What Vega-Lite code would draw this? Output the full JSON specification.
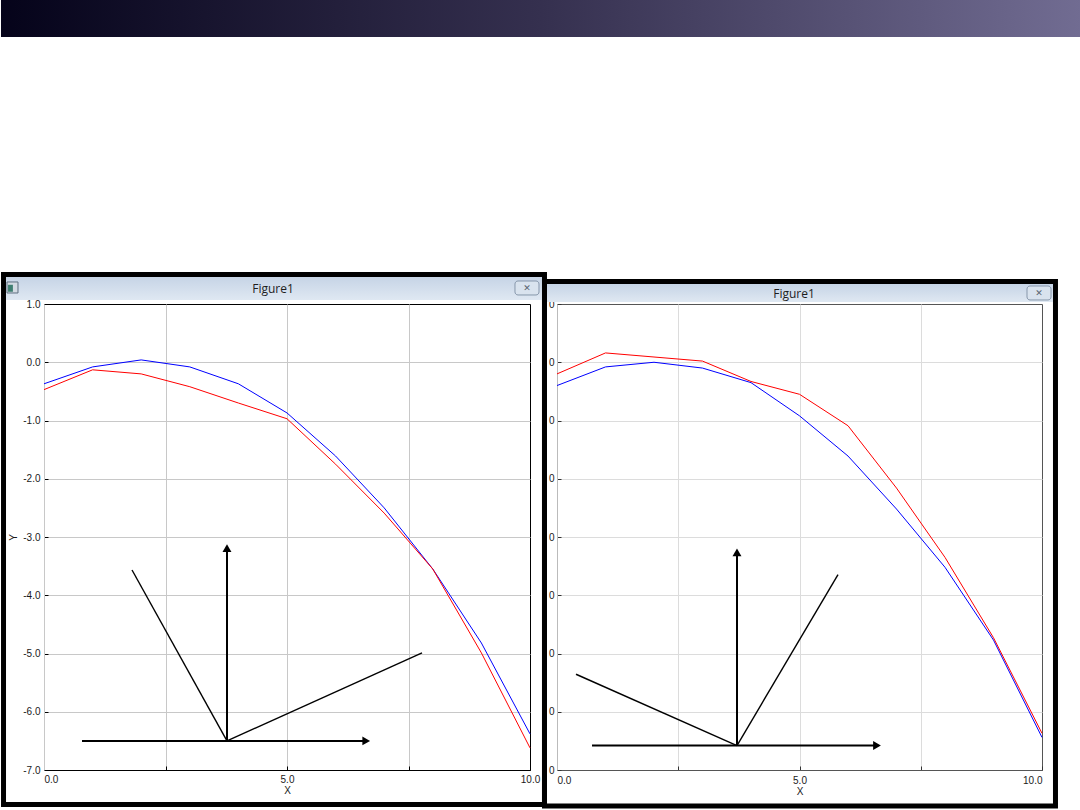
{
  "$schema": "https://vega.github.io/schema/vega-lite/v6.json",
  "padding": 0,
  "background": "#ffffff",
  "autosize": {"type": "pad"},
  "config": {"view": {"stroke": null}, "font": "Liberation Sans"},
  "datasets": {
    "left": [
      {"x": 0, "y": -0.37, "s": "blue"}, {"x": 1, "y": -0.08, "s": "blue"}, {"x": 2, "y": 0.04, "s": "blue"},
      {"x": 3, "y": -0.08, "s": "blue"}, {"x": 4, "y": -0.37, "s": "blue"}, {"x": 5, "y": -0.87, "s": "blue"},
      {"x": 6, "y": -1.61, "s": "blue"}, {"x": 7, "y": -2.5, "s": "blue"}, {"x": 8, "y": -3.55, "s": "blue"},
      {"x": 9, "y": -4.82, "s": "blue"}, {"x": 10, "y": -6.38, "s": "blue"},
      {"x": 0, "y": -0.47, "s": "red"}, {"x": 1, "y": -0.13, "s": "red"}, {"x": 2, "y": -0.2, "s": "red"},
      {"x": 3, "y": -0.42, "s": "red"}, {"x": 4, "y": -0.7, "s": "red"}, {"x": 5, "y": -0.97, "s": "red"},
      {"x": 6, "y": -1.75, "s": "red"}, {"x": 7, "y": -2.59, "s": "red"}, {"x": 8, "y": -3.55, "s": "red"},
      {"x": 9, "y": -4.99, "s": "red"}, {"x": 10, "y": -6.62, "s": "red"}
    ],
    "right": [
      {"x": 0, "y": -0.4, "s": "blue"}, {"x": 1, "y": -0.08, "s": "blue"}, {"x": 2, "y": 0.0, "s": "blue"},
      {"x": 3, "y": -0.1, "s": "blue"}, {"x": 4, "y": -0.35, "s": "blue"}, {"x": 5, "y": -0.92, "s": "blue"},
      {"x": 6, "y": -1.61, "s": "blue"}, {"x": 7, "y": -2.52, "s": "blue"}, {"x": 8, "y": -3.52, "s": "blue"},
      {"x": 9, "y": -4.77, "s": "blue"}, {"x": 10, "y": -6.44, "s": "blue"},
      {"x": 0, "y": -0.2, "s": "red"}, {"x": 1, "y": 0.16, "s": "red"}, {"x": 2, "y": 0.09, "s": "red"},
      {"x": 3, "y": 0.02, "s": "red"}, {"x": 4, "y": -0.33, "s": "red"}, {"x": 5, "y": -0.55, "s": "red"},
      {"x": 6, "y": -1.09, "s": "red"}, {"x": 7, "y": -2.16, "s": "red"}, {"x": 8, "y": -3.35, "s": "red"},
      {"x": 9, "y": -4.73, "s": "red"}, {"x": 10, "y": -6.37, "s": "red"}
    ],
    "vecL": [
      {"x": 0.782, "y": -6.5, "xe": 6.6, "ye": -6.5, "kind": "arrow"},
      {"x": 3.765, "y": -6.5, "xe": 3.765, "ye": -3.2, "kind": "arrow"},
      {"x": 3.765, "y": -6.5, "xe": 1.811, "ye": -3.567, "kind": "line"},
      {"x": 3.765, "y": -6.5, "xe": 7.778, "ye": -4.991, "kind": "line"}
    ],
    "headL": [
      {"x": 6.63, "y": -6.5, "dir": "right"},
      {"x": 3.765, "y": -3.19, "dir": "up"}
    ],
    "vecR": [
      {"x": 0.722, "y": -6.58, "xe": 6.55, "ye": -6.58, "kind": "arrow"},
      {"x": 3.711, "y": -6.58, "xe": 3.711, "ye": -3.28, "kind": "arrow"},
      {"x": 3.711, "y": -6.58, "xe": 0.392, "ye": -5.356, "kind": "line"},
      {"x": 3.711, "y": -6.58, "xe": 5.794, "ye": -3.646, "kind": "line"}
    ],
    "headR": [
      {"x": 6.598, "y": -6.58, "dir": "right"},
      {"x": 3.711, "y": -3.266, "dir": "up"}
    ]
  },
  "bounds": "full",
  "spacing": 234,
  "vconcat": [
    {
      "width": 1037,
      "height": 37,
      "data": {"values": [{}]},
      "mark": {
        "type": "rect",
        "stroke": null,
        "clip": false,
        "fill": {"gradient": "linear", "x1": 0, "y1": 0, "x2": 1, "y2": 0,
          "stops": [{"offset": 0, "color": "#05031a"}, {"offset": 0.5, "color": "#35304f"}, {"offset": 1, "color": "#716c92"}]}
      },
      "encoding": {
        "x": {"datum": -0.04147, "type": "quantitative", "scale": {"domain": [0, 1], "nice": false, "zero": false}, "axis": null},
        "x2": {"datum": 1},
        "y": {"datum": 0, "type": "quantitative", "scale": {"domain": [0, 1], "nice": false, "zero": false}, "axis": null},
        "y2": {"datum": 1}
      }
    },
    {
      "bounds": "flush",
      "spacing": 27,
      "hconcat": [
        {
          "width": 486,
          "height": 466,
          "view": {"stroke": "#000000", "strokeWidth": 1},
          "layer": [
            {
              "data": {"values": [{}]},
              "mark": {"type": "rect", "filled": false, "stroke": "#000000", "strokeWidth": 5, "clip": false},
              "encoding": {
                "x": {"datum": -0.833, "type": "quantitative", "scale": {"domain": [0, 10], "nice": false, "zero": false}},
                "x2": {"datum": 10.298},
                "y": {"datum": 1.506, "type": "quantitative", "scale": {"domain": [-7, 1], "nice": false, "zero": false}},
                "y2": {"datum": -7.592}
              }
            },
            {
              "data": {"values": [{}]},
              "mark": {"type": "rect", "stroke": null, "clip": false,
                "fill": {"gradient": "linear", "x1": 0, "y1": 0, "x2": 0, "y2": 1,
                  "stops": [{"offset": 0, "color": "#c6d4e6"}, {"offset": 1, "color": "#dfe8f2"}]}},
              "encoding": {
                "x": {"datum": -0.782, "type": "quantitative", "scale": {"domain": [0, 10], "nice": false, "zero": false}},
                "x2": {"datum": 10.247},
                "y": {"datum": 1.464, "type": "quantitative", "scale": {"domain": [-7, 1], "nice": false, "zero": false}},
                "y2": {"datum": 1.069}
              }
            },
            {
              "data": {"values": [{}]},
              "mark": {"type": "rect", "fill": "#d4dbe3", "stroke": "#5f7080", "strokeWidth": 1, "clip": false},
              "encoding": {
                "x": {"datum": -0.761, "type": "quantitative", "scale": {"domain": [0, 10], "nice": false, "zero": false}},
                "x2": {"datum": -0.535},
                "y": {"datum": 1.378, "type": "quantitative", "scale": {"domain": [-7, 1], "nice": false, "zero": false}},
                "y2": {"datum": 1.189}
              }
            },
            {
              "data": {"values": [{}]},
              "mark": {"type": "rect", "fill": "#3f7f72", "stroke": null, "clip": false},
              "encoding": {
                "x": {"datum": -0.74, "type": "quantitative", "scale": {"domain": [0, 10], "nice": false, "zero": false}},
                "x2": {"datum": -0.64},
                "y": {"datum": 1.33, "type": "quantitative", "scale": {"domain": [-7, 1], "nice": false, "zero": false}},
                "y2": {"datum": 1.21}
              }
            },
            {
              "data": {"values": [{}]},
              "mark": {"type": "rect", "fill": "#d9e3ee", "stroke": "#8797ab", "strokeWidth": 1, "cornerRadius": 3, "clip": false},
              "encoding": {
                "x": {"datum": 9.691, "type": "quantitative", "scale": {"domain": [0, 10], "nice": false, "zero": false}},
                "x2": {"datum": 10.185},
                "y": {"datum": 1.395, "type": "quantitative", "scale": {"domain": [-7, 1], "nice": false, "zero": false}},
                "y2": {"datum": 1.155}
              }
            },
            {
              "data": {"values": [{"t": "✕"}]},
              "mark": {"type": "text", "font": "DejaVu Sans", "fontSize": 9, "color": "#5a6470", "align": "center", "baseline": "middle", "clip": false},
              "encoding": {
                "x": {"datum": 9.938, "type": "quantitative", "scale": {"domain": [0, 10], "nice": false, "zero": false}},
                "y": {"datum": 1.275, "type": "quantitative", "scale": {"domain": [-7, 1], "nice": false, "zero": false}},
                "text": {"field": "t"}
              }
            },
            {
              "data": {"values": [{"t": "Figure1"}]},
              "mark": {"type": "text", "font": "Open Sans", "fontSize": 12, "color": "#1e1e1e", "align": "center", "baseline": "middle", "clip": false},
              "encoding": {
                "x": {"datum": 4.712, "type": "quantitative", "scale": {"domain": [0, 10], "nice": false, "zero": false}},
                "y": {"datum": 1.258, "type": "quantitative", "scale": {"domain": [-7, 1], "nice": false, "zero": false}},
                "text": {"field": "t"}
              }
            },
            {
              "data": {"name": "left"},
              "mark": {"type": "line", "strokeWidth": 1},
              "encoding": {
                "x": {"field": "x", "type": "quantitative", "scale": {"domain": [0, 10], "nice": false, "zero": false},
                  "axis": {"values": [0, 2.5, 5, 7.5, 10], "title": "X", "grid": true, "gridColor": "#c8c8c8",
                    "gridOpacity": {"condition": {"test": "datum.value == 0 || datum.value == 10", "value": 0}, "value": 1},
                    "labelExpr": "datum.value % 5 == 0 ? format(datum.value, '.1f') : ''",
                    "labelFlush": false,
                    "labelAlign": {"condition": {"test": "datum.value == 0", "value": "left"}, "value": "center"},
                    "labelOverlap": false, "labelFont": "Liberation Sans", "labelFontSize": 10, "labelColor": "#1a1a1a",
                    "labelPadding": 8, "tickSize": -4, "tickColor": "#000000", "domainColor": "#000000",
                    "titleFont": "Liberation Sans", "titleFontSize": 10, "titleFontWeight": "normal", "titleColor": "#1a1a1a", "titlePadding": 1}},
                "y": {"field": "y", "type": "quantitative", "scale": {"domain": [-7, 1], "nice": false, "zero": false},
                  "axis": {"values": [-7, -6.5, -6, -5.5, -5, -4.5, -4, -3.5, -3, -2.5, -2, -1.5, -1, -0.5, 0, 0.5, 1],
                    "title": "Y", "grid": true, "gridColor": "#c8c8c8",
                    "gridOpacity": {"condition": {"test": "datum.value == 1 || datum.value == -7", "value": 0}, "value": 1},
                    "labelExpr": "datum.value % 1 == 0 ? (datum.value < 0 ? '-' : '') + format(abs(datum.value), '.1f') : ''",
                    "labelOverlap": false, "labelFont": "Liberation Sans", "labelFontSize": 10, "labelColor": "#1a1a1a",
                    "labelPadding": 8, "tickSize": -4, "tickColor": "#000000", "domainColor": "#c8c8c8",
                    "titleFont": "Liberation Sans", "titleFontSize": 10, "titleFontWeight": "normal", "titleColor": "#1a1a1a", "titlePadding": 4}},
                "color": {"field": "s", "type": "nominal", "scale": {"domain": ["blue", "red"], "range": ["#0000ff", "#ff0000"]}, "legend": null}
              }
            },
            {
              "data": {"name": "vecL"},
              "transform": [{"filter": "datum.kind == 'arrow'"}],
              "mark": {"type": "rule", "color": "#000000", "strokeWidth": 2},
              "encoding": {
                "x": {"field": "x", "type": "quantitative", "scale": {"domain": [0, 10], "nice": false, "zero": false}},
                "y": {"field": "y", "type": "quantitative", "scale": {"domain": [-7, 1], "nice": false, "zero": false}},
                "x2": {"field": "xe"},
                "y2": {"field": "ye"}
              }
            },
            {
              "data": {"name": "vecL"},
              "transform": [{"filter": "datum.kind == 'line'"}],
              "mark": {"type": "rule", "color": "#000000", "strokeWidth": 1.4},
              "encoding": {
                "x": {"field": "x", "type": "quantitative", "scale": {"domain": [0, 10], "nice": false, "zero": false}},
                "y": {"field": "y", "type": "quantitative", "scale": {"domain": [-7, 1], "nice": false, "zero": false}},
                "x2": {"field": "xe"},
                "y2": {"field": "ye"}
              }
            },
            {
              "data": {"name": "headL"},
              "mark": {"type": "point", "filled": true, "color": "#000000", "opacity": 1, "size": 80},
              "encoding": {
                "x": {"field": "x", "type": "quantitative", "scale": {"domain": [0, 10], "nice": false, "zero": false}},
                "y": {"field": "y", "type": "quantitative", "scale": {"domain": [-7, 1], "nice": false, "zero": false}},
                "shape": {"field": "dir", "type": "nominal", "scale": {"domain": ["right", "up"], "range": ["triangle-right", "triangle-up"]}, "legend": null}
              }
            }
          ]
        },
        {
          "width": 485,
          "height": 466,
          "view": {"stroke": "#555555", "strokeWidth": 1},
          "layer": [
            {
              "data": {"values": [{}]},
              "mark": {"type": "rect", "filled": false, "stroke": "#000000", "strokeWidth": 5, "clip": false},
              "encoding": {
                "x": {"datum": -0.258, "type": "quantitative", "scale": {"domain": [0, 10], "nice": false, "zero": false}},
                "x2": {"datum": 10.278},
                "y": {"datum": 1.386, "type": "quantitative", "scale": {"domain": [-7, 1], "nice": false, "zero": false}},
                "y2": {"datum": -7.618}
              }
            },
            {
              "data": {"values": [{}]},
              "mark": {"type": "rect", "stroke": null, "clip": false,
                "fill": {"gradient": "linear", "x1": 0, "y1": 0, "x2": 0, "y2": 1,
                  "stops": [{"offset": 0, "color": "#c6d4e6"}, {"offset": 1, "color": "#dfe8f2"}]}},
              "encoding": {
                "x": {"datum": -0.206, "type": "quantitative", "scale": {"domain": [0, 10], "nice": false, "zero": false}},
                "x2": {"datum": 10.227},
                "y": {"datum": 1.343, "type": "quantitative", "scale": {"domain": [-7, 1], "nice": false, "zero": false}},
                "y2": {"datum": 1.034}
              }
            },
            {
              "data": {"values": [{}]},
              "mark": {"type": "rect", "fill": "#d9e3ee", "stroke": "#8797ab", "strokeWidth": 1, "cornerRadius": 3, "clip": false},
              "encoding": {
                "x": {"datum": 9.691, "type": "quantitative", "scale": {"domain": [0, 10], "nice": false, "zero": false}},
                "x2": {"datum": 10.186},
                "y": {"datum": 1.309, "type": "quantitative", "scale": {"domain": [-7, 1], "nice": false, "zero": false}},
                "y2": {"datum": 1.069}
              }
            },
            {
              "data": {"values": [{"t": "✕"}]},
              "mark": {"type": "text", "font": "DejaVu Sans", "fontSize": 9, "color": "#5a6470", "align": "center", "baseline": "middle", "clip": false},
              "encoding": {
                "x": {"datum": 9.938, "type": "quantitative", "scale": {"domain": [0, 10], "nice": false, "zero": false}},
                "y": {"datum": 1.189, "type": "quantitative", "scale": {"domain": [-7, 1], "nice": false, "zero": false}},
                "text": {"field": "t"}
              }
            },
            {
              "data": {"values": [{"t": "Figure1"}]},
              "mark": {"type": "text", "font": "Open Sans", "fontSize": 12, "color": "#1e1e1e", "align": "center", "baseline": "middle", "clip": false},
              "encoding": {
                "x": {"datum": 4.887, "type": "quantitative", "scale": {"domain": [0, 10], "nice": false, "zero": false}},
                "y": {"datum": 1.172, "type": "quantitative", "scale": {"domain": [-7, 1], "nice": false, "zero": false}},
                "text": {"field": "t"}
              }
            },
            {
              "data": {"name": "right"},
              "mark": {"type": "line", "strokeWidth": 1},
              "encoding": {
                "x": {"field": "x", "type": "quantitative", "scale": {"domain": [0, 10], "nice": false, "zero": false},
                  "axis": {"values": [0, 2.5, 5, 7.5, 10], "title": "X", "grid": true, "gridColor": "#dcdcdc",
                    "gridOpacity": {"condition": {"test": "datum.value == 0 || datum.value == 10", "value": 0}, "value": 1},
                    "labelExpr": "datum.value % 5 == 0 ? format(datum.value, '.1f') : ''",
                    "labelFlush": true,
                    "labelOverlap": false, "labelFont": "Liberation Sans", "labelFontSize": 10, "labelColor": "#1a1a1a",
                    "labelPadding": 9, "tickSize": -4, "tickColor": "#333333", "domainColor": "#555555",
                    "titleFont": "Liberation Sans", "titleFontSize": 10, "titleFontWeight": "normal", "titleColor": "#1a1a1a", "titlePadding": 1}},
                "y": {"field": "y", "type": "quantitative", "scale": {"domain": [-7, 1], "nice": false, "zero": false},
                  "axis": {"values": [-7, -6.5, -6, -5.5, -5, -4.5, -4, -3.5, -3, -2.5, -2, -1.5, -1, -0.5, 0, 0.5, 1],
                    "title": null, "grid": true, "gridColor": "#dcdcdc",
                    "gridOpacity": {"condition": {"test": "datum.value == 1 || datum.value == -7", "value": 0}, "value": 1},
                    "labelExpr": "datum.value % 1 == 0 ? '0' : ''",
                    "labelOverlap": false, "labelFont": "Liberation Sans", "labelFontSize": 10, "labelColor": "#1a1a1a",
                    "labelPadding": 7, "tickSize": -4, "tickColor": "#333333", "domainColor": "#bbbbbb"}},
                "color": {"field": "s", "type": "nominal", "scale": {"domain": ["blue", "red"], "range": ["#0000ff", "#ff0000"]}, "legend": null}
              }
            },
            {
              "data": {"name": "vecR"},
              "transform": [{"filter": "datum.kind == 'arrow'"}],
              "mark": {"type": "rule", "color": "#000000", "strokeWidth": 2},
              "encoding": {
                "x": {"field": "x", "type": "quantitative", "scale": {"domain": [0, 10], "nice": false, "zero": false}},
                "y": {"field": "y", "type": "quantitative", "scale": {"domain": [-7, 1], "nice": false, "zero": false}},
                "x2": {"field": "xe"},
                "y2": {"field": "ye"}
              }
            },
            {
              "data": {"name": "vecR"},
              "transform": [{"filter": "datum.kind == 'line'"}],
              "mark": {"type": "rule", "color": "#000000", "strokeWidth": 1.4},
              "encoding": {
                "x": {"field": "x", "type": "quantitative", "scale": {"domain": [0, 10], "nice": false, "zero": false}},
                "y": {"field": "y", "type": "quantitative", "scale": {"domain": [-7, 1], "nice": false, "zero": false}},
                "x2": {"field": "xe"},
                "y2": {"field": "ye"}
              }
            },
            {
              "data": {"name": "headR"},
              "mark": {"type": "point", "filled": true, "color": "#000000", "opacity": 1, "size": 80},
              "encoding": {
                "x": {"field": "x", "type": "quantitative", "scale": {"domain": [0, 10], "nice": false, "zero": false}},
                "y": {"field": "y", "type": "quantitative", "scale": {"domain": [-7, 1], "nice": false, "zero": false}},
                "shape": {"field": "dir", "type": "nominal", "scale": {"domain": ["right", "up"], "range": ["triangle-right", "triangle-up"]}, "legend": null}
              }
            }
          ]
        }
      ]
    }
  ]
}
